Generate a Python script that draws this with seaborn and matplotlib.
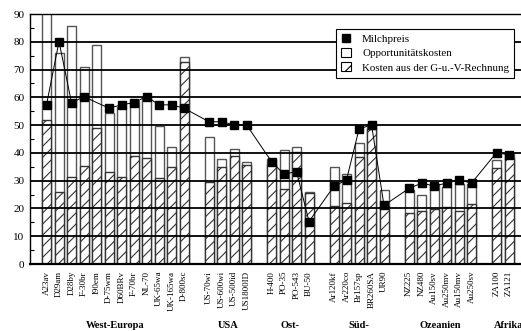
import numpy as np
import pandas as pd
import matplotlib
matplotlib.use("Agg")
import matplotlib.pyplot as plt
import seaborn as sns
from matplotlib.patches import Patch
from matplotlib.lines import Line2D

# ---- data ----
groups = ["West-Europa", "USA", "Ost-", "Süd-", "Ozeanien", "Afrika"]
labels_west = ["A23av", "D29am", "D28by", "F-30br", "I90em", "D-75wm", "D60BRv", "F-70br",
               "NL-70", "UK-65wa", "UK-165wa", "D-800sc"]
labels_usa = ["US-70wi", "US-600wi", "US-500id", "US1800ID"]
labels_ost = ["H-400", "PO-35", "PO-543", "BU-50"]
labels_sued = ["Ar120kf", "Ar220co", "Br157sp", "BR260SA", "UR90"]
labels_oz = ["NZ225", "NZ480", "Au150sv", "Au250mv", "Au150mv", "Au250sv"]
labels_af = ["ZA100", "ZA121"]

guv_west = [51.7, 25.8, 31.5, 35.3, 49.1, 33.3, 31.2, 38.8, 38.2, 30.9, 34.9, 72.6]
guv_usa = [29.7, 35.1, 38.9, 35.7]
guv_ost = [36.0, 27.0, 40.5, 25.5]
guv_sued = [20.8, 21.8, 38.7, 48.5, 20.8]
guv_oz = [18.3, 19.1, 19.8, 20.7, 19.1, 21.6]
guv_af = [34.7, 38.1]

opp_west = [40.0, 50.0, 54.1, 35.8, 29.9, 21.1, 25.5, 20.0, 21.6, 18.8, 7.1, 2.1]
opp_usa = [15.9, 2.6, 2.4, 1.2]
opp_ost = [1.7, 13.9, 1.8, 0.6]
opp_sued = [14.1, 10.7, 4.8, 2.0, 5.7]
opp_oz = [8.2, 5.8, 9.0, 6.9, 9.7, 7.1]
opp_af = [2.8, 1.6]

milk_west = [57.3, 80.1, 58.1, 60.2, np.nan, 56.1, 57.3, 58.1, 60.3, 57.3, 57.3, 56.1]
milk_usa = [51.2, 51.2, 50.1, 50.1]
milk_ost = [36.9, 32.3, 33.3, 15.3]
milk_sued = [28.0, 30.3, 48.5, 50.2, 21.1]
milk_oz = [27.2, 29.1, 28.1, 29.1, 30.3, 29.1]
milk_af = [40.1, 39.3]

label_sets = [labels_west, labels_usa, labels_ost, labels_sued, labels_oz, labels_af]
guv_sets = [guv_west, guv_usa, guv_ost, guv_sued, guv_oz, guv_af]
opp_sets = [opp_west, opp_usa, opp_ost, opp_sued, opp_oz, opp_af]
milk_sets = [milk_west, milk_usa, milk_ost, milk_sued, milk_oz, milk_af]

# ---- build table with spacer slots between groups ----
rows = []
order = []
group_centers = []
for gi, (g, labs, gv, op, mk) in enumerate(zip(groups, label_sets, guv_sets, opp_sets, milk_sets)):
    if gi > 0:
        order.append(" " * gi)
    start = len(order)
    for l, a, b, m in zip(labs, gv, op, mk):
        rows.append(dict(label=l, group=g, guv=a, total=a + b, milk=m))
        order.append(l)
    group_centers.append((start + len(order) - 1) / 2)
df = pd.DataFrame(rows)
df["pos"] = [order.index(l) for l in df["label"]]

plt.rcParams["font.family"] = ["Liberation Serif", "DejaVu Serif"]
plt.rcParams["hatch.linewidth"] = 0.8

fig = plt.figure(figsize=(5.21, 3.31), dpi=100)
ax = fig.add_axes([30 / 521, 67 / 331, 491 / 521, 250 / 331])
ax.yaxis.grid(True, which="major", color="black", lw=1.3)

W = 0.72
# opportunity costs (total height, white)
sns.barplot(data=df, x="label", y="total", order=order, color="white", width=W,
            edgecolor="#555555", linewidth=1.0, errorbar=None, saturation=1, ax=ax, zorder=1)
# G-u.-V costs, hatched
sns.barplot(data=df, x="label", y="guv", order=order, color="white", width=W,
            edgecolor="#333333", linewidth=1.0, hatch="///", errorbar=None, saturation=1,
            ax=ax, zorder=1.5)

# milk price line + markers
dm = df.dropna(subset=["milk"])
ax.plot(dm["pos"], dm["milk"], color="black", lw=0.7, zorder=6)
ax.plot(dm["pos"], dm["milk"], ls="none", marker="s", ms=5.2, mfc="black", mec="black", zorder=7)

ax.set_axisbelow(False)
ax.set_ylim(0, 90)
ax.set_xlim(-1.32, 37.96)
ax.set_yticks(np.arange(0, 91, 10))
ax.set_yticks(np.arange(5, 90, 10), minor=True)
ax.tick_params(axis="y", which="minor", direction="in", length=3, width=0.8, color="black", left=True)
ax.tick_params(axis="y", which="major", length=0, labelsize=8, pad=4)

ax.set_xticks(range(len(order)))
ax.set_xticklabels([l if l.strip() else "" for l in order], rotation=90, fontsize=6.5)
ax.tick_params(axis="x", length=0, pad=5)
ax.set_xlabel("")
ax.set_ylabel("")

ax.spines["right"].set_visible(False)
ax.spines["left"].set_linewidth(1.0)
ax.spines["bottom"].set_linewidth(1.6)
ax.spines["top"].set_linewidth(1.0)

for g, c in zip(groups[:-1], group_centers[:-1]):
    ax.text(c, -20.5, g, ha="center", va="top", fontsize=7.5, fontweight="bold")
ax.text(group_centers[-1] - 0.7, -20.5, groups[-1], ha="left", va="top", fontsize=7.5,
        fontweight="bold")

handles = [
    Line2D([], [], ls="none", marker="s", ms=5.2, mfc="black", mec="black"),
    Patch(facecolor="white", edgecolor="black", lw=0.8),
    Patch(facecolor="white", edgecolor="black", lw=0.8, hatch="//"),
]
leg = ax.legend(handles, ["Milchpreis", "Opportunitätskosten", "Kosten aus der G-u.-V-Rechnung"],
                loc="upper right", bbox_to_anchor=(0.986, 0.94), borderaxespad=0,
                fancybox=False, framealpha=1, edgecolor="black", fontsize=7.9,
                handlelength=0.9, handleheight=0.9, handletextpad=1.0, borderpad=0.45,
                labelspacing=0.35)
leg.get_frame().set_linewidth(0.8)
leg.set_zorder(10)

fig.savefig("out.png", dpi=100)
